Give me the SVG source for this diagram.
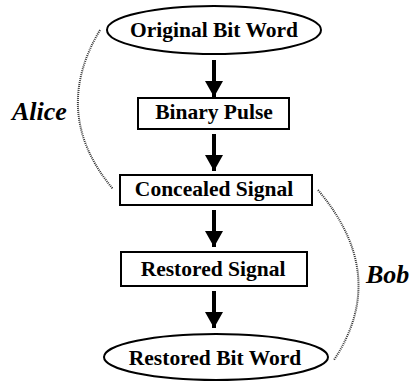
<svg xmlns="http://www.w3.org/2000/svg" width="414" height="381" viewBox="0 0 414 381">
<defs>
<style>
.n{fill:#fff;stroke:#000;stroke-width:2}
.t{font-family:'Liberation Serif','Times New Roman',serif;font-weight:700;font-size:21.5px;text-anchor:middle;fill:#000}
.lbl{font-family:'Liberation Serif','Times New Roman',serif;font-weight:700;font-style:italic;font-size:26px;fill:#000}
.c{stroke:#000;stroke-width:4;fill:none}
.d{fill:none;stroke:#333;stroke-width:2;stroke-dasharray:1 1}
</style>
<marker id="ah" markerUnits="userSpaceOnUse" markerWidth="20" markerHeight="20" refX="16" refY="10" orient="auto">
<path d="M0,1 L16,10 L0,19 Z" fill="#000"/>
</marker>
</defs>
<g id="connectors">
<line class="c" x1="214" y1="60" x2="214" y2="97" marker-end="url(#ah)"/>
<line class="c" x1="214" y1="134" x2="214" y2="171" marker-end="url(#ah)"/>
<line class="c" x1="214" y1="210" x2="214" y2="247" marker-end="url(#ah)"/>
<line class="c" x1="214" y1="291" x2="214" y2="328" marker-end="url(#ah)"/>
<path class="d" d="M100,30 Q50,114 113,189"/>
<path class="d" d="M318,190 Q390,275 334,360"/>
</g>
<g id="n1"><ellipse class="n" cx="214" cy="30" rx="107" ry="24"/><text class="t" x="214" y="37">Original Bit Word</text></g>
<g id="n2"><rect class="n" x="138" y="98" width="151" height="31"/><text class="t" x="214" y="119">Binary Pulse</text></g>
<g id="n3"><rect class="n" x="120" y="175" width="192" height="30"/><text class="t" x="214" y="196">Concealed Signal</text></g>
<g id="n4"><rect class="n" x="121" y="252" width="186" height="34"/><text class="t" x="213" y="276">Restored Signal</text></g>
<g id="n5"><ellipse class="n" cx="216" cy="357" rx="112" ry="23"/><text class="t" x="215" y="365">Restored Bit Word</text></g>
<g id="alice"><text class="lbl" x="12" y="120">Alice</text></g>
<g id="bob"><text class="lbl" x="366" y="283">Bob</text></g>
</svg>
